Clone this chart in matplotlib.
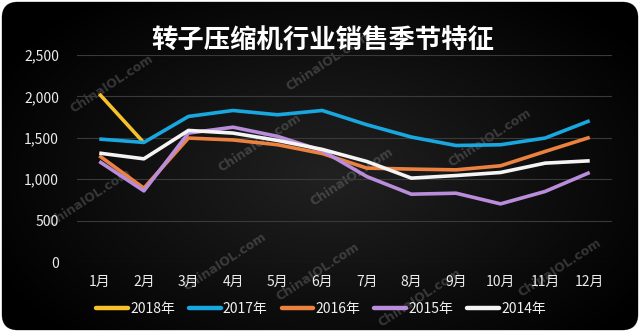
import numpy as np
import matplotlib
matplotlib.use("Agg")
import matplotlib.pyplot as plt
from matplotlib.patches import FancyBboxPatch
from matplotlib.lines import Line2D

plt.rcParams['font.family'] = ['Noto Sans CJK SC', 'DejaVu Sans']

# ---- data ----
months = ['1月', '2月', '3月', '4月', '5月', '6月', '7月', '8月', '9月', '10月', '11月', '12月']
y2018 = [2030, 1440]
y2017 = [1485, 1444, 1758, 1830, 1778, 1830, 1658, 1509, 1407, 1416, 1497, 1706]
y2016 = [1283, 892, 1497, 1474, 1416, 1310, 1134, 1122, 1113, 1162, 1335, 1505]
y2015 = [1214, 859, 1557, 1628, 1517, 1345, 1032, 819, 831, 702, 852, 1081]
y2014 = [1315, 1246, 1589, 1557, 1468, 1360, 1214, 1013, 1044, 1081, 1194, 1222]
series_names = ['2018年', '2017年', '2016年', '2015年', '2014年']
series_vals = [y2018, y2017, y2016, y2015, y2014]
colors = ['#F6C12A', '#19A7E0', '#EC8240', '#B98DDB', '#F4F4F4']
title = '转子压缩机行业销售季节特征'
yticks = [0, 500, 1000, 1500, 2000, 2500]

W, H = 640, 335
fig = plt.figure(figsize=(W / 100, H / 100), dpi=100, facecolor='white')

# ---- background ----
bg = fig.add_axes([0, 0, 1, 1])
bg.set_xlim(0, W)
bg.set_ylim(H, 0)
bg.axis('off')
box = FancyBboxPatch((2, 2), W - 4, 328, boxstyle='round,pad=0,rounding_size=16',
                     facecolor='#000000', edgecolor='#9a9a9a', linewidth=0.6)
bg.add_patch(box)
xx, yy = np.meshgrid(np.linspace(0, W, 320), np.linspace(0, H, 170))
d = np.sqrt(((xx - 330) / 380) ** 2 + ((yy - 175) / 230) ** 2)
g = np.clip(0.13 * (1 - d), 0, None)
img = np.dstack([g, g, g])
im = bg.imshow(img, extent=(0, W, H, 0), zorder=1, interpolation='bilinear')
im.set_clip_path(box)

# watermarks
wm = [(112, 84), (328, 62), (260, 143), (90, 198), (352, 177), (490, 138),
      (225, 262), (318, 272), (560, 268), (420, 298)]
for (px, py) in wm:
    bg.text(px, py, 'ChinaIOL.com', color='#8a8a8a', alpha=0.35, fontsize=9,
            fontweight='bold', rotation=33, ha='center', va='center', zorder=2,
            family=['DejaVu Sans'])

fig.text(323 / W, 1 - 40 / H, title, color='white', fontsize=19, fontweight='bold',
         ha='center', va='center')

# ---- main axes ----
ax = fig.add_axes([77 / W, 1 - 262 / H, (612 - 77) / W, (262 - 55) / H])
ax.set_facecolor('none')
x = np.arange(1, 13)
handles = []
for name, vals, c in zip(series_names, series_vals, colors):
    ax.plot(x[:len(vals)], vals, color=c, linewidth=2.6, solid_joinstyle='round',
            solid_capstyle='butt', zorder=3)
    handles.append(Line2D([0], [0], color=c, linewidth=3.2, solid_capstyle='round'))

ax.set_xlim(0.5, 12.5)
ax.set_ylim(0, 2500)
ax.set_yticks(yticks)
ax.set_yticklabels([f'{v:,}' for v in yticks])
ax.set_xticks(x)
ax.set_xticklabels(months)
ax.grid(axis='y', color='#3a3a3a', linewidth=0.8)
ax.set_axisbelow(True)
for s in ax.spines.values():
    s.set_visible(False)
ax.tick_params(axis='both', length=0, colors='#ececec', labelsize=10)
ax.tick_params(axis='y', pad=13)
ax.tick_params(axis='x', pad=9)

leg = fig.legend(handles, series_names, loc='center', bbox_to_anchor=(321 / W, 1 - 309 / H),
                 ncol=5, frameon=False, fontsize=10, handlelength=2.3, handletextpad=0.15,
                 columnspacing=1.0, labelcolor='#f0f0f0', borderpad=0)

fig.savefig('out.png', dpi=100, facecolor=fig.get_facecolor())
